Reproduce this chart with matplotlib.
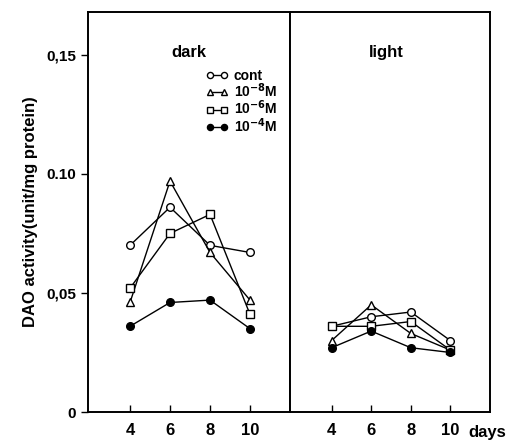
import matplotlib
matplotlib.use("Agg")
import matplotlib.pyplot as plt

plt.rcParams['font.family'] = ['Liberation Sans', 'DejaVu Sans']
plt.rcParams['font.weight'] = 'bold'

days = [4, 6, 8, 10]
labels = ['cont', '10$^{-8}$M', '10$^{-6}$M', '10$^{-4}$M']
markers = ['o', '^', 's', 'o']
fills = ['white', 'white', 'white', 'black']

# dark
dark_cont = [0.070, 0.086, 0.070, 0.067]
dark_m8 = [0.046, 0.097, 0.067, 0.047]
dark_m6 = [0.052, 0.075, 0.083, 0.041]
dark_m4 = [0.036, 0.046, 0.047, 0.035]

# light
light_cont = [0.036, 0.040, 0.042, 0.030]
light_m8 = [0.030, 0.045, 0.033, 0.026]
light_m6 = [0.036, 0.036, 0.038, 0.026]
light_m4 = [0.027, 0.034, 0.027, 0.025]

dark = [dark_cont, dark_m8, dark_m6, dark_m4]
light = [light_cont, light_m8, light_m6, light_m4]

fig = plt.figure(figsize=(5.22, 4.4), dpi=100)
ax1 = fig.add_axes([0.1686, 0.0636, 0.3870, 0.9091])
ax2 = fig.add_axes([0.5556, 0.0636, 0.3831, 0.9091])

for ax, data in [(ax1, dark), (ax2, light)]:
    for vals, lab, m, fc in zip(data, labels, markers, fills):
        ax.plot(days, vals, color='black', lw=1, marker=m, ms=5.5,
                mfc=fc, mec='black', mew=1, label=lab)
    ax.set_xlim(1.9, 12)
    ax.set_ylim(0, 0.168)
    ax.set_xticks(days)
    ax.set_xticklabels([str(d) for d in days], fontsize=12, fontweight='bold')
    ax.tick_params(axis='x', direction='in', length=5, width=1, pad=8)
    for s in ax.spines.values():
        s.set_linewidth(1.4)

ax1.set_yticks([0, 0.05, 0.10, 0.15])
ax1.set_yticklabels(['0', '0,05', '0.10', '0,15'], fontsize=11, fontweight='bold')
ax1.tick_params(axis='y', direction='out', length=5, width=1)
ax1.set_ylabel('DAO activity(unit/mg protein)', fontsize=12, fontweight='bold', labelpad=6)
ax2.set_yticks([])

ax1.text(0.5, 0.9, 'dark', transform=ax1.transAxes, ha='center', va='center',
         fontsize=12, fontweight='bold')
ax2.text(0.48, 0.9, 'light', transform=ax2.transAxes, ha='center', va='center',
         fontsize=12, fontweight='bold')
ax2.text(0.89, -0.05, 'days', transform=ax2.transAxes, ha='left', va='center',
         fontsize=12, fontweight='bold', clip_on=False)

ax1.legend(loc='upper left', bbox_to_anchor=(0.55, 0.875), frameon=False,
           numpoints=2, handlelength=1.6, handletextpad=0.4, labelspacing=-0.1,
           borderpad=0, prop={'size': 10, 'weight': 'bold'}, markerscale=0.8)

fig.savefig('out.png', dpi=100)
